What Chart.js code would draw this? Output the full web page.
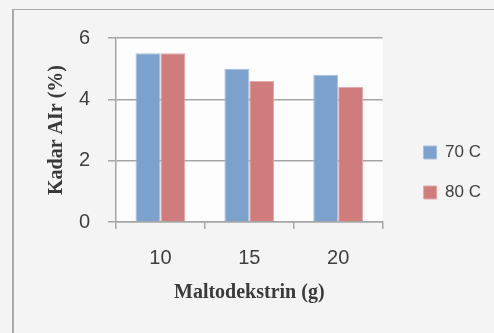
<!DOCTYPE html>
<html>
<head>
<meta charset="utf-8">
<script src="https://cdn.jsdelivr.net/npm/chart.js"></script>
<style>
  html, body { margin: 0; padding: 0; background: #f4f4f4; }
  #wrap { position: relative; width: 494px; height: 333px; overflow: hidden; }
  #frame {
    position: absolute; left: 12px; top: 9px; right: -5px; bottom: -5px;
    border-left: 2px solid #a9a9a9; border-top: 1px solid #a9a9a9;
  }
  canvas { position: absolute; left: 0; top: 0; }
</style>
</head>
<body>
<div id="wrap">
  <div id="frame"></div>
  <canvas id="grafico" width="494" height="333"></canvas>
</div>
<script>
// Dados
const kategori = ['10', '15', '20'];
const suhu70 = [5.5, 5.0, 4.8];
const suhu80 = [5.5, 4.6, 4.4];
const labelSeri = ['70 C', '80 C'];
const yTicks = [0, 2, 4, 6];

// fundo da área do gráfico + posição da legenda
const fundoPlot = {
  id: 'fundoPlot',
  afterLayout(chart) {
    // legenda fica à direita, um pouco abaixo do centro
    const lg = chart.legend;
    lg.left = chart.chartArea.right + 18;
    lg.right = 494;
    lg.top = 121;
    lg.bottom = 333;
    lg.width = lg.right - lg.left;
    lg.height = lg.bottom - lg.top;
  },
  beforeDraw(chart) {
    const { ctx, chartArea } = chart;
    ctx.save();
    ctx.fillStyle = '#fdfdfd';
    ctx.fillRect(chartArea.left, chartArea.top, chartArea.right - chartArea.left, chartArea.bottom - chartArea.top);
    ctx.restore();
  }
};

const ctx = document.getElementById('grafico').getContext('2d');
new Chart(ctx, {
  type: 'bar',
  data: {
    labels: kategori,
    datasets: [{
      label: labelSeri[0],
      data: suhu70,
      backgroundColor: '#7da1cd',
      borderColor: '#a9c0de',
      borderWidth: 1,
      categoryPercentage: 0.56,
      barPercentage: 1
    }, {
      label: labelSeri[1],
      data: suhu80,
      backgroundColor: '#d07c7c',
      borderColor: '#e2a9a9',
      borderWidth: 1,
      categoryPercentage: 0.56,
      barPercentage: 1
    }]
  },
  options: {
    responsive: false,
    animation: false,
    layout: { padding: { left: 45, top: 38, right: 21, bottom: 28 } },
    plugins: {
      legend: {
        position: 'right',
        align: 'start',
        labels: {
          boxWidth: 13,
          boxHeight: 13,
          padding: 23,
          color: '#3f3f3f',
          font: { family: 'Liberation Sans', size: 17 }
        }
      },
      tooltip: { enabled: false }
    },
    scales: {
      x: {
        offset: true,
        grid: { offset: true, drawOnChartArea: false, color: '#a6a6a6', lineWidth: 1.5, tickLength: 7 },
        border: { color: '#a6a6a6', width: 1.5 },
        ticks: { color: '#3f3f3f', padding: 17, font: { family: 'Liberation Sans', size: 20 } },
        title: {
          display: true,
          text: 'Maltodekstrin (g)',
          color: '#3a3a3a',
          padding: { top: 4, bottom: 0 },
          font: { family: 'Liberation Serif', size: 20, weight: 'bold' }
        },
        afterFit(scale) { scale.height = 305 - 222; }
      },
      y: {
        min: 0,
        max: 6,
        afterBuildTicks(scale) { scale.ticks = yTicks.map(v => ({ value: v })); },
        grid: { color: '#a6a6a6', lineWidth: 1.5, tickLength: 8 },
        border: { color: '#a6a6a6', width: 1.5 },
        ticks: { color: '#3f3f3f', padding: 18, font: { family: 'Liberation Sans', size: 20 } },
        title: {
          display: true,
          text: 'Kadar AIr (%)',
          color: '#3a3a3a',
          padding: { top: 0, bottom: 4 },
          font: { family: 'Liberation Serif', size: 20, weight: 'bold' }
        },
        afterFit(scale) { scale.width = 116 - 45; }
      }
    }
  },
  plugins: [fundoPlot]
});
</script>
</body>
</html>
